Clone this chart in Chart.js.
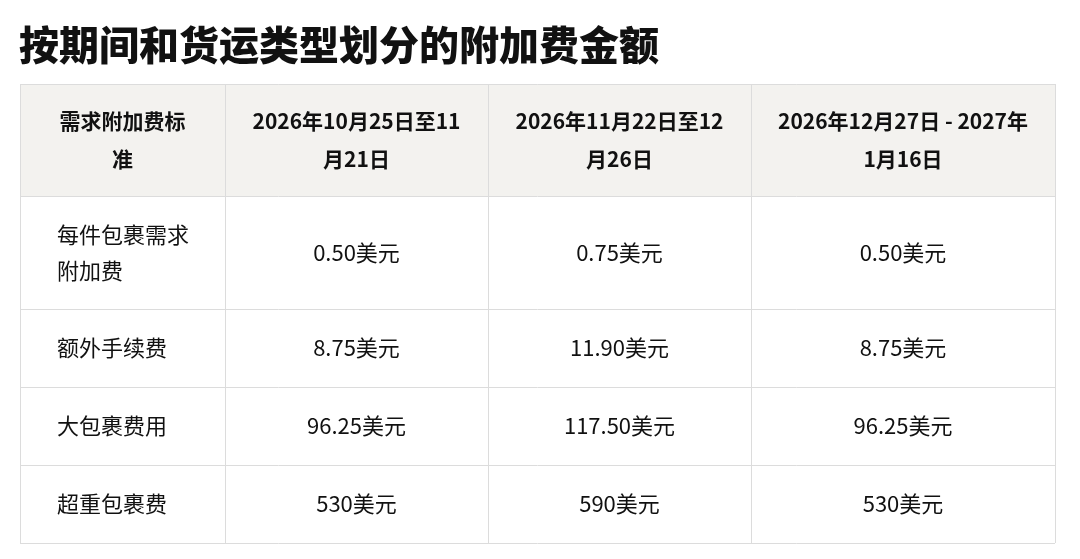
<!DOCTYPE html>
<html>
<head>
<meta charset="utf-8">
<script src="https://cdn.jsdelivr.net/npm/chart.js@4"></script>
<style>
  html, body { margin: 0; padding: 0; background: #fff; }
  #wrap { width: 1080px; height: 559px; }
</style>
</head>
<body>
<div id="wrap"><canvas id="tableChart"></canvas></div>
<script>
// Table data
const titleText = '按期间和货运类型划分的附加费金额';
const headers = ['需求附加费标\n准', '2026年10月25日至11\n月21日', '2026年11月22日至12\n月26日', '2026年12月27日 - 2027年\n1月16日'];
const rowLabels = ['每件包裹需求\n附加费', '额外手续费', '大包裹费用', '超重包裹费'];
const period1 = ['0.50美元', '8.75美元', '96.25美元', '530美元'];
const period2 = ['0.75美元', '11.90美元', '117.50美元', '590美元'];
const period3 = ['0.50美元', '8.75美元', '96.25美元', '530美元'];

// Layout weights (column widths / row heights)
const colWeights = [205, 263, 263, 304];
const rowWeights = [112, 113, 78, 78, 78];
const FONT = '"Noto Sans CJK SC", "Noto Sans", sans-serif';

const tablePlugin = {
    id: 'tablePlugin',
    afterDraw(chart) {
        const ctx = chart.ctx;
        const area = chart.chartArea;
        const colSum = colWeights.reduce((a, b) => a + b, 0);
        const rowSum = rowWeights.reduce((a, b) => a + b, 0);
        const xs = [area.left];
        colWeights.forEach(w => xs.push(xs[xs.length - 1] + w / colSum * (area.right - area.left)));
        const ys = [area.top];
        rowWeights.forEach(h => ys.push(ys[ys.length - 1] + h / rowSum * (area.bottom - area.top)));

        ctx.save();
        // title
        ctx.fillStyle = '#111';
        ctx.font = '900 40px ' + FONT;
        ctx.textBaseline = 'alphabetic';
        ctx.textAlign = 'left';
        ctx.fillText(titleText, 19, 60);

        // header background
        ctx.fillStyle = '#f3f2ef';
        ctx.fillRect(xs[0], ys[0], xs[4] - xs[0], ys[1] - ys[0]);

        // grid lines
        ctx.strokeStyle = '#dcdcdc';
        ctx.lineWidth = 1;
        ys.forEach(y => { ctx.beginPath(); ctx.moveTo(xs[0], y + 0.5); ctx.lineTo(xs[4], y + 0.5); ctx.stroke(); });
        xs.forEach(x => { ctx.beginPath(); ctx.moveTo(x + 0.5, ys[0]); ctx.lineTo(x + 0.5, ys[5]); ctx.stroke(); });

        function drawLines(text, x, yMid, align, lh) {
            const lines = text.split('\n');
            ctx.textAlign = align;
            ctx.textBaseline = 'middle';
            const y0 = yMid - (lines.length - 1) * lh / 2;
            lines.forEach((l, i) => ctx.fillText(l, x, y0 + i * lh));
        }

        // header
        ctx.fillStyle = '#111';
        ctx.font = 'bold 21px ' + FONT;
        headers.forEach((h, c) => {
            drawLines(h, (xs[c] + xs[c + 1]) / 2, (ys[0] + ys[1]) / 2, 'center', 38);
        });

        // body
        ctx.font = '22px ' + FONT;
        const cols = [period1, period2, period3];
        rowLabels.forEach((label, r) => {
            const yMid = (ys[r + 1] + ys[r + 2]) / 2;
            drawLines(label, xs[0] + 37, yMid, 'left', 36);
            cols.forEach((col, c) => {
                drawLines(col[r], (xs[c + 1] + xs[c + 2]) / 2, yMid, 'center', 36);
            });
        });
        ctx.restore();
    }
};

new Chart(document.getElementById('tableChart'), {
    type: 'bar',
    data: {
        labels: headers,
        datasets: []
    },
    options: {
        responsive: true,
        maintainAspectRatio: false,
        animation: false,
        layout: { padding: { left: 20, right: 25, top: 84, bottom: 16 } },
        plugins: { legend: { display: false }, tooltip: { enabled: false } },
        scales: {
            x: { display: false },
            y: { display: false }
        }
    },
    plugins: [tablePlugin]
});
</script>
</body>
</html>
